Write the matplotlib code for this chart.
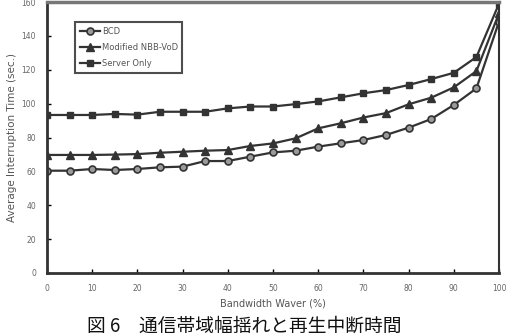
import matplotlib
matplotlib.use("Agg")
import matplotlib.pyplot as plt

plt.rcParams['font.family'] = ['DejaVu Sans', 'Noto Sans CJK JP']

bandwidth = list(range(0, 101, 5))
bcd = [60.4, 60.4, 61.4, 60.8, 61.4, 62.4, 62.8, 66.1, 66.1, 68.7, 71.2,
       72.2, 74.6, 76.6, 78.5, 81.5, 85.8, 90.9, 99.2, 109.0, 148.4]
modified_nbb = [69.7, 69.7, 69.7, 69.9, 70.2, 71.0, 71.6, 72.2, 72.6, 75.0, 76.5,
                79.5, 85.4, 88.4, 91.8, 94.4, 99.6, 103.5, 109.6, 119.2, 153.3]
server_only = [93.3, 93.3, 93.3, 93.9, 93.5, 95.2, 95.2, 95.2, 97.2, 98.3, 98.3,
               99.7, 101.3, 103.7, 106.1, 108.0, 111.0, 114.5, 118.2, 127.5, 159.0]
legend_labels = ["BCD", "Modified NBB-VoD", "Server Only"]
xticks = list(range(0, 101, 10))
yticks = list(range(0, 161, 20))
caption = "図 6　通信帯域幅揺れと再生中断時間"

fig = plt.figure(figsize=(5.23, 3.36), dpi=100)
ax = fig.add_axes([47/523, 1-273/336, 452/523, 271/336])

lc = '#333333'
ax.plot(bandwidth, bcd, color=lc, lw=1.6, marker='o', ms=5, mfc='#9a9a9a', mec=lc, mew=1.2, label=legend_labels[0])
ax.plot(bandwidth, modified_nbb, color=lc, lw=1.6, marker='^', ms=5.5, mfc=lc, mec=lc, label=legend_labels[1])
ax.plot(bandwidth, server_only, color=lc, lw=1.6, marker='s', ms=5, mfc=lc, mec=lc, label=legend_labels[2])

ax.set_xlim(0, 100)
ax.set_ylim(0, 160)
ax.set_xticks(xticks)
ax.set_yticks(yticks)
ax.tick_params(direction='in', length=3, width=1, labelsize=5.5, labelcolor='#666666', pad=8)
for s in ['left', 'bottom']:
    ax.spines[s].set_linewidth(2)
    ax.spines[s].set_color('#333333')
ax.spines['right'].set_linewidth(1.5)
ax.spines['right'].set_color('#333333')
ax.spines['top'].set_linewidth(2.5)
ax.spines['top'].set_color('#777777')

ax.set_xlabel("Bandwidth Waver (%)", fontsize=7, color='#555555', labelpad=4)
ax.set_ylabel("Average Interruption Time (sec.)", fontsize=7.5, color='#555555', labelpad=3)

leg = ax.legend(loc='upper left', bbox_to_anchor=(0.062, 0.925), fontsize=6,
                frameon=True, fancybox=False, handlelength=2.4, borderpad=0.55,
                labelspacing=0.85, handletextpad=0.25, borderaxespad=0)
leg.get_frame().set_edgecolor('#222222')
leg.get_frame().set_linewidth(1.5)
for t in leg.get_texts():
    t.set_color('#555555')

fig.text(87/523, 1-316/336, caption, fontsize=13.5, va='top', ha='left',
         family=['Noto Sans CJK JP', 'DejaVu Sans'], color='#111111')

fig.savefig("out.png", dpi=100)
